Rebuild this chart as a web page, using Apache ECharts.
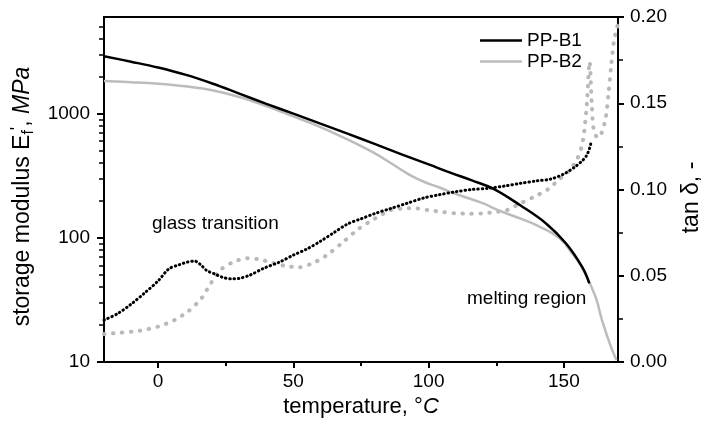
<!DOCTYPE html>
<html><head><meta charset="utf-8">
<script src="https://cdn.jsdelivr.net/npm/echarts@6/dist/echarts.min.js"></script>
<style>html,body{margin:0;padding:0;background:#fff}#c{width:711px;height:430px}</style>
</head><body><div id="c"></div>
<script>
// ---- data ----
const xTickValues = [0, 50, 100, 150];
const xMinorTicks = [25, 75, 125];
const yLogLabels = [10, 100, 1000];
const yLogMinor = [20,30,40,50,60,70,80,90,200,300,400,500,600,700,800,900,2000,3000,4000,5000];

const b1Temp = [-20,-10,0,10,20,30,40,50,60,70,80,90,100,108,116,124,134,143.5,150.8,156.8,159.4];
const b1Mod  = [2900,2620,2350,2060,1750,1450,1200,1000,830,690,570,470,390,335,290,248,182,130,90,58,43];

const b2Temp = [-20,-10,0,10,20,30,40,50,60,70,80,86,90,94,98,104,110,120,126,135,140,146,150,153,156,159,162,164,167,169.4];
const b2Mod  = [1830,1790,1740,1660,1540,1360,1150,950,780,620,480,400,352,312,284,254,226,190,166,140,126,108,92,75,61,46,32,22,14,10.4];

const b1TanTemp = [-20,-15,-10,-5,0,4,8,11,13.5,16,18,21,24,27,30,34,39,45,50,55,60,65,70,75,80,86,92,98,104,110,116,122,128,134,140,145,150,154,157,158.5,159.5,160];
const b1Tan     = [0.0243,0.028,0.0335,0.040,0.047,0.054,0.0565,0.058,0.0585,0.056,0.053,0.051,0.049,0.0482,0.0485,0.0504,0.0543,0.058,0.062,0.0655,0.070,0.075,0.080,0.083,0.086,0.089,0.092,0.095,0.097,0.0987,0.100,0.1007,0.102,0.1036,0.105,0.106,0.109,0.113,0.117,0.120,0.124,0.127];

const b2TanTemp = [-20,-14,-7,0,6,11,16,19.5,23,28,33,37.5,42,47,52,57,62,68,74,80,86,91,95,100,105,110,115,120,125,129,134,139,144,148,152,155,157,158.5,159.5,160.3,161,162.5,164,165.5,166.5,167.5,168.5,169.5,170];
const b2Tan     = [0.0162,0.017,0.0181,0.0205,0.0243,0.0292,0.0369,0.0456,0.0533,0.0581,0.0601,0.0595,0.0576,0.0557,0.0549,0.0572,0.0615,0.069,0.077,0.083,0.0881,0.089,0.0891,0.088,0.087,0.0862,0.086,0.0862,0.087,0.0881,0.092,0.0958,0.100,0.1055,0.111,0.118,0.128,0.150,0.174,0.150,0.135,0.130,0.133,0.142,0.156,0.172,0.186,0.193,0.196];

const pair = (xs, ys) => xs.map((x, i) => [x, ys[i]]);
const FONT = 'Liberation Sans, Arial, sans-serif';

const chart = echarts.init(document.getElementById('c'), null, {renderer: 'canvas'});
chart.setOption({
  animation: false,
  backgroundColor: '#fff',
  grid: {left: 104, right: 81, top: 17, bottom: 68, show: true, borderColor: '#000', borderWidth: 2, backgroundColor: 'transparent'},
  legend: {
    left: 480, top: 30, orient: 'vertical', icon: 'rect', itemWidth: 42, itemHeight: 2.5, itemGap: 0, padding: 0,
    data: ['PP-B1', 'PP-B2'],
    textStyle: {fontFamily: FONT, fontSize: 19, color: '#000', lineHeight: 21}
  },
  xAxis: [{
    type: 'value', min: -20, max: 170, position: 'bottom',
    name: '{a|temperature, °}{i|C}', nameLocation: 'middle', nameGap: 33,
    nameTextStyle: {fontFamily: FONT, fontSize: 22, color: '#000',
      rich: {a: {fontFamily: FONT, fontSize: 22, color: '#000'}, i: {fontFamily: FONT, fontSize: 22, fontStyle: 'italic', color: '#000'}}},
    axisLine: {onZero: false, lineStyle: {color: '#000', width: 2}},
    axisTick: {length: 6, lineStyle: {color: '#000', width: 2}, customValues: xTickValues},
    axisLabel: {fontFamily: FONT, fontSize: 19, color: '#000', margin: 10, customValues: xTickValues},
    splitLine: {show: false}
  }, {
    type: 'value', min: -20, max: 170, position: 'bottom',
    axisLine: {show: false, onZero: false},
    axisTick: {length: 4, lineStyle: {color: '#000', width: 2}, customValues: xMinorTicks},
    axisLabel: {show: false},
    splitLine: {show: false}
  }],
  yAxis: [{
    type: 'log', logBase: 10, min: 10, max: 6000, position: 'left',
    name: '{a|storage modulus E}{sub|f}{sup|\'}{a|, }{i|MPa}', nameLocation: 'middle', nameGap: 64,
    nameTextStyle: {fontFamily: FONT, fontSize: 23, color: '#000', padding: [0, 14, 0, 0],
      rich: {
        a: {fontFamily: FONT, fontSize: 23, color: '#000'},
        sub: {fontFamily: FONT, fontSize: 16, color: '#000', verticalAlign: 'bottom', padding: [8, 0, 0, 0]},
        sup: {fontFamily: FONT, fontSize: 18, color: '#000', verticalAlign: 'top', padding: [0, 0, 10, 0]},
        i: {fontFamily: FONT, fontSize: 23, fontStyle: 'italic', color: '#000'}
      }},
    axisLine: {onZero: false, lineStyle: {color: '#000', width: 2}},
    axisTick: {length: 7, lineStyle: {color: '#000', width: 2}, customValues: yLogLabels},
    axisLabel: {fontFamily: FONT, fontSize: 19, color: '#000', margin: 14, customValues: yLogLabels, formatter: v => String(Math.round(v))},
    splitLine: {show: false}
  }, {
    type: 'log', logBase: 10, min: 10, max: 6000, position: 'left',
    axisLine: {show: false, onZero: false},
    axisTick: {length: 5, lineStyle: {color: '#000', width: 1.5}, customValues: yLogMinor},
    axisLabel: {show: false},
    splitLine: {show: false}
  }, {
    type: 'value', min: 0, max: 0.2, interval: 0.05, position: 'right',
    name: 'tan δ, -', nameLocation: 'middle', nameGap: 62,
    nameTextStyle: {fontFamily: FONT, fontSize: 23, color: '#000', padding: [0, 16, 0, 0]},
    axisLine: {onZero: false, lineStyle: {color: '#000', width: 2}},
    axisTick: {length: 6, lineStyle: {color: '#000', width: 2}},
    minorTick: {show: true, splitNumber: 2, length: 5, lineStyle: {color: '#000', width: 1.5}},
    axisLabel: {fontFamily: FONT, fontSize: 19, color: '#000', margin: 12, formatter: v => v.toFixed(2)},
    splitLine: {show: false}, minorSplitLine: {show: false}
  }],
  series: [
    {name: 'PP-B2 tan', type: 'line', xAxisIndex: 0, yAxisIndex: 2, data: pair(b2TanTemp, b2Tan), symbol: 'none', smooth: 0.3,
      lineStyle: {color: '#b9b9b9', width: 4, type: [0.5, 8.5], cap: 'round'}, z: 2},
    {name: 'PP-B2', type: 'line', xAxisIndex: 0, yAxisIndex: 0, data: pair(b2Temp, b2Mod), symbol: 'none', smooth: 0.4,
      lineStyle: {color: '#bcbcbc', width: 2.5}, itemStyle: {color: '#bcbcbc'}, z: 3},
    {name: 'PP-B1 tan', type: 'line', xAxisIndex: 0, yAxisIndex: 2, data: pair(b1TanTemp, b1Tan), symbol: 'none', smooth: 0.3,
      lineStyle: {color: '#000', width: 3, type: [0.5, 3.8], cap: 'round'}, z: 4},
    {name: 'PP-B1', type: 'line', xAxisIndex: 0, yAxisIndex: 0, data: pair(b1Temp, b1Mod), symbol: 'none', smooth: 0.4,
      lineStyle: {color: '#000', width: 2.5}, itemStyle: {color: '#000'}, z: 5}
  ],
  graphic: [
    {type: 'text', left: 152, top: 214, style: {text: 'glass transition', font: '19px "Liberation Sans"', fill: '#000'}},
    {type: 'text', left: 467, top: 289, style: {text: 'melting region', font: '19px "Liberation Sans"', fill: '#000'}}
  ]
});
</script>
</body></html>
